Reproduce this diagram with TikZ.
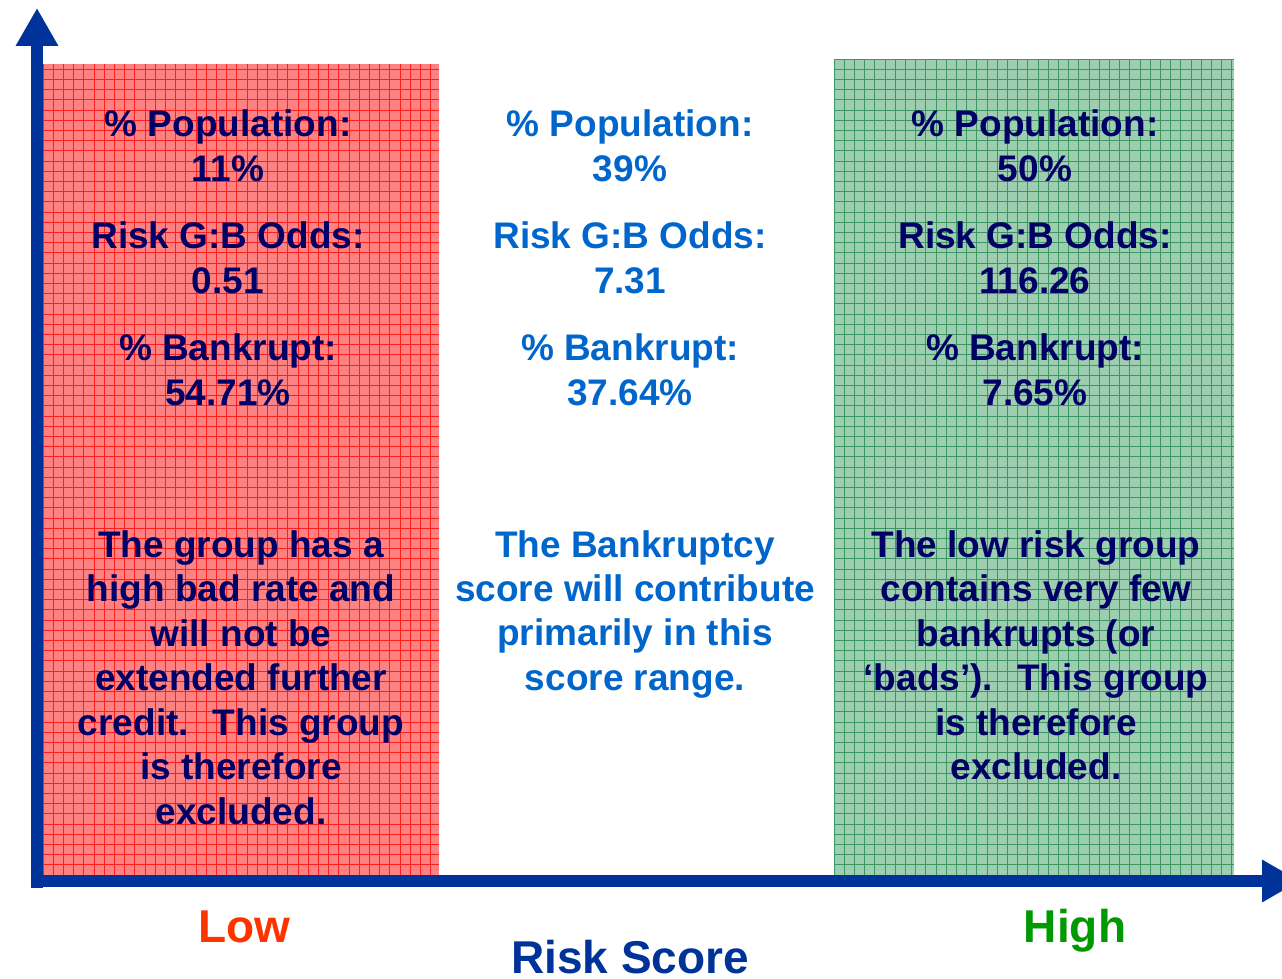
\documentclass[tikz,border=0pt]{standalone}
\usepackage{fontspec}
\setmainfont{Liberation Sans}
\usetikzlibrary{arrows.meta}
\definecolor{axisblue}{RGB}{0,51,153}
\definecolor{navy}{RGB}{0,0,102}
\definecolor{midblue}{RGB}{0,102,204}
\definecolor{lowred}{RGB}{255,51,0}
\definecolor{highgreen}{RGB}{0,153,0}
\definecolor{redfill}{RGB}{255,130,130}
\definecolor{redline}{RGB}{255,30,30}
\definecolor{greenfill}{RGB}{158,206,176}
\definecolor{greenline}{RGB}{60,150,100}

\begin{document}
\begin{tikzpicture}[x=1pt,y=1pt,
 axis/.style={line width=12pt,color=axisblue,-{Triangle[length=38pt,width=40pt]}},
 stat/.style={align=center,anchor=base,inner sep=0pt,font=\fontsize{37}{44.5}\selectfont\bfseries},
 lbl/.style={anchor=base,inner sep=0pt,font=\fontsize{46}{50}\selectfont\bfseries}]
\clip (0,0) rectangle (1282,978);
% shaded score bands
\fill[redfill] (43,103) rectangle (439,914);
\begin{scope}[shift={(43,103)}]
 \draw[redline,line width=0.7pt,step=10.2] (0,0) grid (396,811);
\end{scope}
\fill[greenfill] (834,103) rectangle (1234,919);
\begin{scope}[shift={(834,103)}]
 \draw[greenline,line width=0.7pt,step=10.2] (0,0) grid (400,816);
\end{scope}
% axes
\coordinate (orig) at (37,97);
\coordinate (ytip) at (37,970);
\coordinate (xstart) at (31,97);
\coordinate (xtip) at (1300,97);
\draw[axis,-] (37,90) -- (orig);
\draw[axis] (orig) -- (ytip);
\draw[axis] (xstart) -- (xtip);
% figures per band (base = last line)
\node[stat,navy] (lowstat) at (228,572.5) {\% Population:\\11\%\\[23pt]Risk G:B Odds:\\0.51\\[23pt]\% Bankrupt:\\54.71\%};
\node[stat,midblue] (midstat) at (630,572.5) {\% Population:\\39\%\\[23pt]Risk G:B Odds:\\7.31\\[23pt]\% Bankrupt:\\37.64\%};
\node[stat,navy] (highstat) at (1035,572.5) {\% Population:\\50\%\\[23pt]Risk G:B Odds:\\116.26\\[23pt]\% Bankrupt:\\7.65\%};
% comments per band
\node[stat,navy] (lownote) at (241,154) {The group has a\\high bad rate and\\will not be\\extended further\\credit.~ This group\\is therefore\\excluded.};
\node[stat,midblue] (midnote) at (635,287.5) {The Bankruptcy\\score will contribute\\primarily in this\\score range.};
\node[stat,navy] (highnote) at (1036,198.5) {The low risk group\\contains very few\\bankrupts (or\\‘bads’).~ This group\\is therefore\\excluded.};
% axis labels
\node[lbl,lowred] (low) at (244,36) {Low};
\node[lbl,highgreen] (high) at (1075,36) {High};
\node[lbl,axisblue] (score) at (630,5) {Risk Score};
\end{tikzpicture}
\end{document}
